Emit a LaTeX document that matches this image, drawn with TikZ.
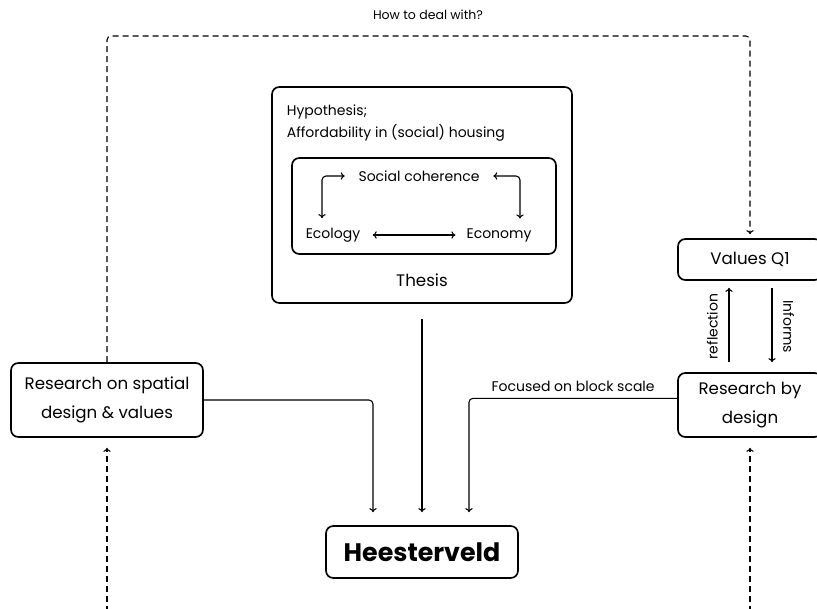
\documentclass[tikz,border=0pt]{standalone}
\usepackage{fontspec}
\setmainfont{Poppins}
\usetikzlibrary{arrows.meta}

\tikzset{every picture/.style={line width=0.75pt}}
\tikzset{
  box/.style={draw, rounded corners=5.5pt, line width=1.25pt, align=center, inner sep=0pt},
  txt/.style={font=\fontsize{12.5}{21.5}\selectfont, align=center, inner sep=1pt},
  small/.style={font=\fontsize{10.5}{12}\selectfont, inner sep=1pt},
  flow/.style={line width=0.8pt, -{To[length=3pt,width=5.5pt]}},
  twoway/.style={line width=0.8pt, {To[length=3pt,width=5.5pt]}-{To[length=3pt,width=5.5pt]}},
  dashflow/.style={flow, dash pattern=on 4.5pt off 3pt},
}

\begin{document}
\begin{tikzpicture}[x=0.75pt,y=0.75pt,yscale=-1,xscale=1]
\useasboundingbox (0,0) rectangle (817,609);

%Shape: Thesis box
\node [box, minimum width=225pt, minimum height=162pt] (thesis) at (422,195) {};
%Shape: inner box
\node [box, minimum width=198pt, minimum height=72pt] (inner) at (424,206) {};

% Text Node
\node [small, anchor=west] (hyp) at (285,112) {Hypothesis;};
% Text Node
\node [small, anchor=west] (afford) at (285,133) {Affordability in (social) housing};
% Text Node
\node [small] (soc) at (419,176) {Social coherence};
% Text Node
\node [small] (eco) at (333,235) {Ecology};
% Text Node
\node [small] (ecn) at (499,235) {Economy};
% Text Node
\node [txt] (thlbl) at (422,280) {Thesis};

%Straight Lines
\draw [twoway, rounded corners=3pt, shorten <=9pt, shorten >=6pt] (soc.west) -| ([xshift=-8.25pt]eco.north);
\draw [twoway, rounded corners=3pt, shorten <=9pt, shorten >=6pt] (soc.east) -| ([xshift=15.75pt]ecn.north);
\draw [twoway, shorten <=8pt, shorten >=7pt] (eco) -- (ecn);

%Shape: boxes
\node [box, txt, minimum width=144pt, minimum height=55.5pt] (rsd) at (107,400) {Research on spatial\\design \& values};
\node [box, txt, minimum width=108pt, minimum height=30.75pt] (vq) at (750,259.5) {Values Q1};
\node [box, txt, minimum width=108pt, minimum height=48pt] (rbd) at (750,405) {Research by\\design};
\node [box, minimum width=144pt, minimum height=39pt, font=\fontsize{19}{22}\selectfont\bfseries] (hv) at (422,552) {Heesterveld};

%Straight Lines
\draw [flow, rounded corners=3pt, shorten >=9.75pt] (rsd.east) -| ([xshift=-36.75pt]hv.north);
\draw [flow, shorten <=11.25pt, shorten >=9.75pt] (thesis.south) -- (hv.north);
\draw [flow, rounded corners=3pt, shorten >=9.75pt] ([yshift=-5pt]rbd.west) -| ([xshift=35.25pt]hv.north)
  node [small, pos=0.25, above=4pt] {Focused on block scale};

%Straight Lines
\draw [flow, shorten <=7.5pt, shorten >=5.25pt] ([xshift=-15.75pt]rbd.north) -- ([xshift=-15.75pt]vq.south)
  node [small, midway, rotate=90, anchor=south, inner sep=8pt] {reflection};
\draw [flow, shorten <=5.25pt, shorten >=7.5pt] ([xshift=16.5pt]vq.south) -- ([xshift=16.5pt]rbd.north)
  node [small, midway, rotate=-90, anchor=south, inner sep=8pt] {Informs};

%Dashed Lines
\coordinate (lbot) at (107,612);
\coordinate (rbot) at (750,612);
\coordinate (howto) at (428,36);
\draw [dashflow, shorten >=7.5pt] (lbot) -- (rsd.south);
\draw [dashflow, shorten >=7.5pt] (rbot) -- (rbd.south);
\draw [dashflow, rounded corners=3pt, shorten >=3pt] (rsd.north) |- (howto) -| (vq.north);
% Text Node
\node [small, font=\fontsize{9.4}{12}\selectfont] (howlbl) at (428,15) {How to deal with?};
\end{tikzpicture}
\end{document}
